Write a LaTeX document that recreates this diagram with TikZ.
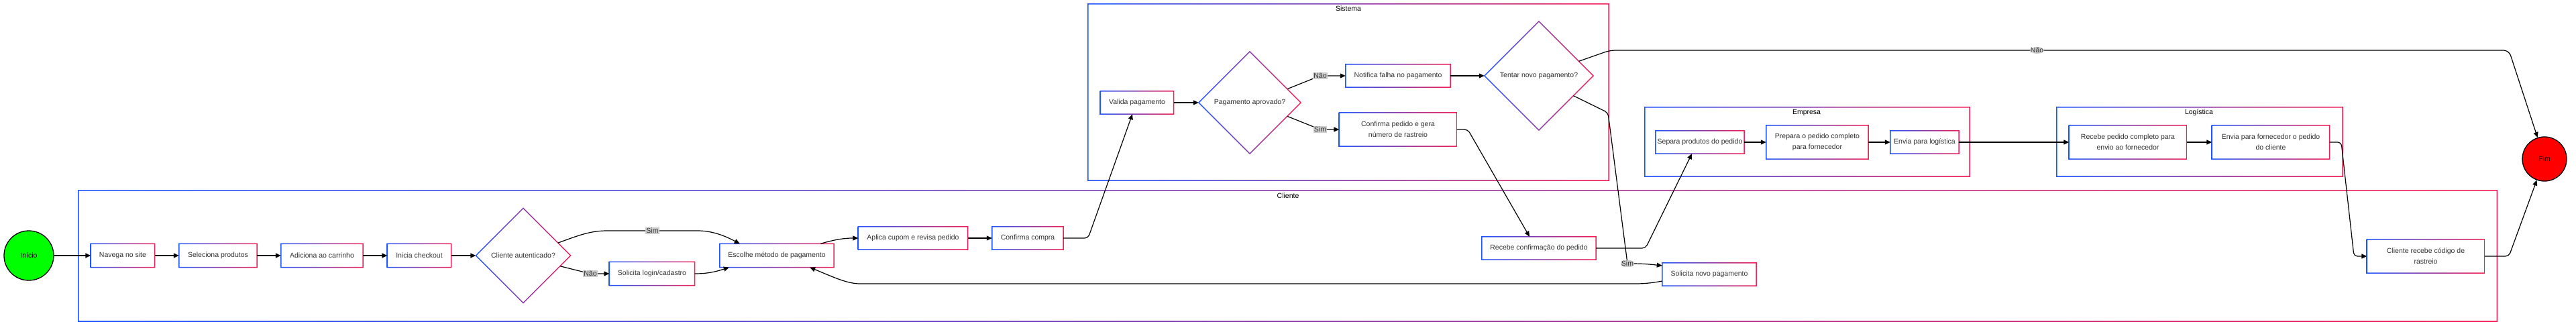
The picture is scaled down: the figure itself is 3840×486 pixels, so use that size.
\documentclass[tikz,border=0pt]{standalone}
\usepackage{fontspec}
\setmainfont{Liberation Sans}
\usetikzlibrary{shapes.geometric,arrows.meta}
\definecolor{cblue}{RGB}{30,85,255}
\definecolor{cred}{RGB}{245,30,85}
\definecolor{txt}{RGB}{51,51,51}
\definecolor{lblbg}{RGB}{204,204,204}
\newcommand\fs{\fontsize{10.5}{16}\selectfont}
\newcommand\gring[1]{\shade[even odd rule,left color=cblue,right color=cred]
  ([shift={(-0.75pt,-0.75pt)}]#1.south west) rectangle ([shift={(0.75pt,0.75pt)}]#1.north east)
  ([shift={(0.75pt,0.75pt)}]#1.south west) rectangle ([shift={(-0.75pt,-0.75pt)}]#1.north east);}
\newcommand\gdiam[1]{\shade[even odd rule,left color=cblue,right color=cred]
  ([xshift=-1pt]#1.west) -- ([yshift=1pt]#1.north) -- ([xshift=1pt]#1.east) -- ([yshift=-1pt]#1.south) -- cycle
  ([xshift=1pt]#1.west) -- ([yshift=-1pt]#1.north) -- ([xshift=-1pt]#1.east) -- ([yshift=1pt]#1.south) -- cycle;}
\begin{document}
\begin{tikzpicture}[x=1pt,y=-1pt,
  box/.style={rectangle, fill=white, inner sep=0pt, align=center, font=\fs, text=txt, minimum height=34pt},
  dia/.style={diamond, fill=white, inner sep=0pt, aspect=1, font=\fs, text=txt},
  term/.style={circle, draw=black, line width=1.3pt, inner sep=0pt, font=\fs, text=black},
  cluster/.style={rectangle, inner sep=0pt},
  clabel/.style={font=\fs, text=black, inner sep=0pt},
  lbl/.style={fill=lblbg, inner sep=1pt, font=\fs, text=txt},
  arr/.style={-{Triangle[length=8pt,width=7pt]}, line width=1.2pt, draw=black}]
\fill[white] (0,0) rectangle (3840,486);
\useasboundingbox (0,0) rectangle (3840,486);
% clusters
\node[cluster, minimum width=3605pt, minimum height=195pt] (clcli) at (1919.5,381.5) {};
\node[cluster, minimum width=776pt, minimum height=263pt] (clsis) at (2010,137.5) {};
\node[cluster, minimum width=484pt, minimum height=103pt] (clemp) at (2694,211.5) {};
\node[cluster, minimum width=426pt, minimum height=103pt] (cllog) at (3279,211.5) {};
\gring{clcli}\gring{clsis}\gring{clemp}\gring{cllog}
\node[clabel] (lcli) at (1920,292) {Cliente};
\node[clabel] (lsis) at (2010,13) {Sistema};
\node[clabel] (lemp) at (2693,168) {Empresa};
\node[clabel] (llog) at (3278,168) {Logística};
% terminals
\node[term, fill={rgb,255:red,0;green,255;blue,0}, minimum size=74pt] (inicio) at (43,381) {Início};
\node[term, fill={rgb,255:red,255;green,0;blue,0}, minimum size=66pt] (fim) at (3793,237) {Fim};
% nodes
\node[box, minimum width=95pt, minimum height=35pt] (navega) at (183,381) {Navega no site};
\node[box, minimum width=116pt, minimum height=35pt] (selec) at (325,381) {Seleciona produtos};
\node[box, minimum width=122pt, minimum height=35pt] (adic) at (480,381) {Adiciona ao carrinho};
\node[box, minimum width=95pt, minimum height=35pt] (inicia) at (625,381) {Inicia checkout};
\node[dia, minimum width=141pt, minimum height=141pt] (auth) at (780,381) {Cliente autenticado?};
\node[box, minimum width=127pt, minimum height=35pt] (solic) at (972,408) {Solicita login/cadastro};
\node[box, minimum width=170pt, minimum height=35pt] (escolhe) at (1158,381) {Escolhe método de pagamento};
\node[box, minimum width=163pt] (aplica) at (1361,355) {Aplica cupom e revisa pedido};
\node[box, minimum width=106pt] (confc) at (1532,355) {Confirma compra};
\node[box, minimum width=109pt] (valida) at (1695,153) {Valida pagamento};
\node[dia, minimum width=152pt, minimum height=152pt] (pagap) at (1863,153) {Pagamento aprovado?};
\node[box, minimum width=156pt] (notif) at (2084,113) {Notifica falha no pagamento};
\node[box, minimum width=175pt, minimum height=50pt] (confp) at (2084,193) {Confirma pedido e gera\\número de rastreio};
\node[dia, minimum width=162pt, minimum height=162pt] (tentar) at (2294,113) {Tentar novo pagamento?};
\node[box, minimum width=170pt] (receb) at (2294,370) {Recebe confirmação do pedido};
\node[box, minimum width=140pt] (solnovo) at (2548,409) {Solicita novo pagamento};
\node[box, minimum width=132pt] (separa) at (2534,212) {Separa produtos do pedido};
\node[box, minimum width=152pt, minimum height=50pt] (prepara) at (2709,212) {Prepara o pedido completo\\para fornecedor};
\node[box, minimum width=102pt] (envlog) at (2869,212) {Envia para logística};
\node[box, minimum width=175pt, minimum height=50pt] (recped) at (3172,212) {Recebe pedido completo para\\envio ao fornecedor};
\node[box, minimum width=175pt, minimum height=50pt] (envforn) at (3385,212) {Envia para fornecedor o pedido\\do cliente};
\node[box, minimum width=175pt, minimum height=50pt] (clirec) at (3616,382) {Cliente recebe código de\\rastreio};
\gring{navega}\gring{selec}\gring{adic}\gring{inicia}\gring{solic}\gring{escolhe}
\gring{aplica}\gring{confc}\gring{valida}\gring{notif}\gring{confp}\gring{receb}
\gring{solnovo}\gring{separa}\gring{prepara}\gring{envlog}\gring{recped}\gring{envforn}\gring{clirec}
\gdiam{auth}\gdiam{pagap}\gdiam{tentar}
% edges
\draw[arr] (inicio) -- (navega);
\draw[arr] (navega) -- (selec);
\draw[arr] (selec) -- (adic);
\draw[arr] (adic) -- (inicia);
\draw[arr] (inicia) -- (auth);
\draw[arr] (auth.20) .. controls (862,351) and (880,344) .. (905,344) -- node[lbl]{Sim} (1040,344) .. controls (1065,344) and (1085,354) .. ([xshift=30pt]escolhe.north west);
\draw[arr] (auth.-16) -- (880,408) node[lbl]{Não} -- (solic.west);
\draw[arr] (solic.east) .. controls (1058,408) and (1070,404) .. ([xshift=14pt]escolhe.south west);
\draw[arr] ([xshift=-20pt]escolhe.north east) .. controls (1245,357) and (1258,355) .. (aplica.west);
\draw[arr] (aplica) -- (confc);
\draw[arr, rounded corners=5pt] (confc.east) -- (1622,355) -- ([xshift=-7pt]valida.south);
\draw[arr] (valida) -- (pagap);
\draw[arr] (pagap.20) -- (1968,113) node[lbl]{Não} -- (notif.west);
\draw[arr] (pagap.-20) -- (1968,193) node[lbl]{Sim} -- (confp.west);
\draw[arr] (notif) -- (tentar);
\draw[arr, rounded corners=5pt] (confp.east) -- (2188,193) -- ([xshift=-14pt]receb.north);
\draw[arr, rounded corners=8pt] (tentar.20) -- (2400,75) -- node[lbl,pos=0.475]{Não} (3740,75) -- (fim.108);
\draw[arr, rounded corners=5pt] (tentar.-30) -- (2397,168) -- (2426,393) node[lbl]{Sim} .. controls (2455,393) and (2468,395) .. ([yshift=13pt]solnovo.west);
\draw[arr, rounded corners=8pt] ([yshift=-10pt]solnovo.west) .. controls (2462,422) and (2450,423) .. (2430,423) -- (1290,423) .. controls (1262,423) and (1240,412) .. ([xshift=-36pt]escolhe.south east);
\draw[arr, rounded corners=5pt] (receb.east) -- (2453,370) -- ([xshift=-12pt]separa.south);
\draw[arr] (separa) -- (prepara);
\draw[arr] (prepara) -- (envlog);
\draw[arr] (envlog) -- (recped);
\draw[arr] (recped) -- (envforn);
\draw[arr, rounded corners=5pt] (envforn.east) -- (3490,212) -- (3509,382) -- (clirec.west);
\draw[arr, rounded corners=5pt] (clirec.east) -- (3740,382) -- (fim.-110);
\end{tikzpicture}
\end{document}
